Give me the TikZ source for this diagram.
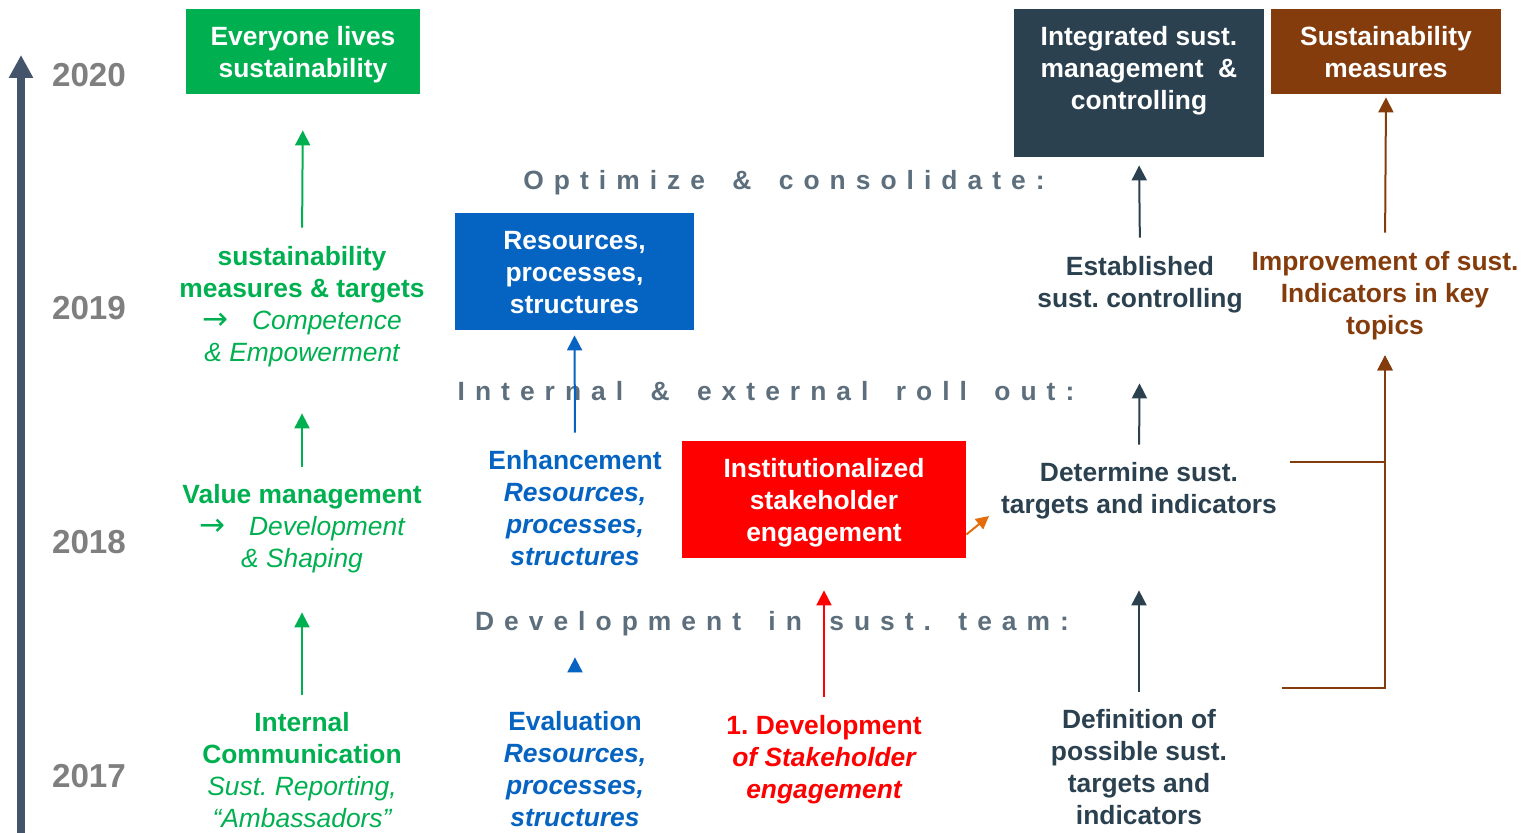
\documentclass[tikz,border=0pt]{standalone}
\usepackage{fontspec}
\setmainfont{Liberation Sans}
\newfontfamily\arrowfont{DejaVu Sans}
\usetikzlibrary{arrows.meta}
\definecolor{greenc}{HTML}{00B050}
\definecolor{bluec}{HTML}{0563C1}
\definecolor{redc}{HTML}{FF0000}
\definecolor{darkc}{HTML}{2B4150}
\definecolor{brownc}{HTML}{843C0C}
\definecolor{orangec}{HTML}{E46C0A}
\definecolor{yearc}{HTML}{7F7F7F}
\definecolor{headc}{HTML}{5D6F7D}
\definecolor{axisc}{HTML}{44546A}
\newcommand\sizedecorate{\fontsize{13.2}{16}\selectfont}
\newcommand\gapdecorate{\ \hspace{5pt}}
\newcommand\arrowdecorate{{\arrowfont\mdseries\upshape\fontsize{15.5}{16}\selectfont →}\hspace{0.9em}}
\frenchspacing
\begin{document}
\begin{tikzpicture}[x=0.5pt,y=-0.5pt,
  boxdecorate/.style={fill=#1,inner sep=0pt},
  boxtext/.style={text=white,inner sep=0pt,align=center,font=\sizedecorate\bfseries},
  textdecorate/.style={text=#1,inner sep=0pt,align=center,font=\sizedecorate\bfseries},
  nlines/.style={minimum height=#1*16pt},
  yeardecorate/.style={text=yearc,inner sep=0pt,font=\fontsize{16.6}{20}\selectfont\bfseries},
  headdecorate/.style={text=headc,inner sep=0pt,font=\sizedecorate\bfseries\addfontfeature{LetterSpace=38}},
  arrowdecorate/.style={-{Triangle[width=7.5pt,length=7.5pt]},line width=1pt,draw=#1}]
\useasboundingbox (0,0) rectangle (1529,833);
%%% time axis
\coordinate (axbot) at (21,833);
\coordinate (axtop) at (21,55);
\draw[-{Triangle[width=11.5pt,length=11.5pt]},line width=4pt,draw=axisc] (axbot) -- (axtop);
\node (y20) at (89,75) [yeardecorate] {2020};
\node (y19) at (89,308) [yeardecorate] {2019};
\node (y18) at (89,542) [yeardecorate] {2018};
\node (y17) at (89,776) [yeardecorate] {2017};
%
%%% phase headings
\node (h19) at (784,183) [headdecorate] {Optimize\gapdecorate\&\gapdecorate consolidate:};
\node (h18) at (766,391) [headdecorate] {Internal\gapdecorate\&\gapdecorate external\gapdecorate roll\gapdecorate out:};
\node (h17) at (772,624) [headdecorate] {Development\gapdecorate in\gapdecorate sust.\gapdecorate team:};
%
%%% green column
% nodes
\node (gbox) at (303,51.5) [boxdecorate=greenc,minimum width=117pt,minimum height=42.5pt] {};
\node (gboxtext) at ([yshift=-1.5pt]gbox.center) [boxtext] {Everyone lives\\ sustainability};
\node (g19) at (302,307) [textdecorate=greenc,nlines=4] {sustainability\\ measures \& targets\\ {\mdseries\itshape \arrowdecorate Competence}\\ {\mdseries\itshape \& Empowerment}};
\node (g18) at (302,529) [textdecorate=greenc,nlines=3] {Value management\\ {\mdseries\itshape \arrowdecorate Development}\\ {\mdseries\itshape \& Shaping}};
\node (g17) at (302,770) [textdecorate=greenc,nlines=4] {Internal\\ Communication\\ {\mdseries\itshape Sust. Reporting,}\\ {\mdseries\itshape “Ambassadors”}};
% edges
\path
(g19.north) edge[arrowdecorate=greenc,shorten <=7.5pt,shorten >=18pt] (gbox.south)
(g18.north) edge[arrowdecorate=greenc,shorten <=7pt,shorten >=21pt] (g19.south)
(g17.north) edge[arrowdecorate=greenc,shorten <=5.5pt,shorten >=17.5pt] (g18.south);
%
%%% blue column
% nodes
\node (bbox) at (574.5,271.5) [boxdecorate=bluec,minimum width=119.5pt,minimum height=58.5pt] {};
\node (bboxtext) at ([yshift=-0.5pt]bbox.center) [boxtext] {Resources,\\ processes,\\ structures};
\node (b18) at (575,508) [textdecorate=bluec,nlines=4] {Enhancement\\ {\itshape Resources,}\\ {\itshape processes,}\\ {\itshape structures}};
\node (b17) at (575,769) [textdecorate=bluec,nlines=4] {Evaluation\\ {\itshape Resources,}\\ {\itshape processes,}\\ {\itshape structures}};
% edges
\path
(b18.north) edge[arrowdecorate=bluec,shorten <=5.5pt,shorten >=2.5pt] (bbox.south)
(b17.north) edge[arrowdecorate=bluec,shorten <=17.5pt,shorten >=42.5pt] (b18.south);
%
%%% red column
% nodes
\node (rbox) at (824,499.5) [boxdecorate=redc,minimum width=142pt,minimum height=58.5pt] {};
\node (rboxtext) at ([yshift=-1.5pt]rbox.center) [boxtext] {Institutionalized\\ stakeholder\\ engagement};
\node (r17) at (824,760) [textdecorate=redc,nlines=3] {1. Development\\ {\itshape of Stakeholder}\\ {\itshape engagement}};
\coordinate (otip) at (989,516);
% edges
\path
(r17.north) edge[arrowdecorate=redc,shorten <=7.5pt,shorten >=16pt] (rbox.south)
([yshift=-17.5pt]rbox.east) edge[arrowdecorate=orangec,-{Triangle[width=6.5pt,length=6.5pt]}] (otip);
%
%%% dark column
% nodes
\node (dbox) at (1139,83) [boxdecorate=darkc,minimum width=125pt,minimum height=74pt] {};
\node (dboxtext) at ([yshift=6pt]dbox.center) [boxtext] {Integrated sust.\\ management \ \&\\ controlling};
\node (d19) at (1140,285) [textdecorate=darkc,nlines=2] {Established\\ sust. controlling};
\node (d18) at (1139,491) [textdecorate=darkc,nlines=2] {Determine sust.\\ targets and indicators};
\node (d17) at (1139,767) [textdecorate=darkc,nlines=4] {Definition of\\ possible sust.\\ targets and\\ indicators};
% edges
\path
(d19.north) edge[arrowdecorate=darkc,shorten <=7.5pt,shorten >=4pt] (dbox.south)
(d18.north) edge[arrowdecorate=darkc,shorten <=7pt,shorten >=33pt] (d19.south)
(d17.north) edge[arrowdecorate=darkc,shorten <=5.5pt,shorten >=33.5pt] (d18.south);
%
%%% brown column
% nodes
\node (nbox) at (1386,51.5) [boxdecorate=brownc,minimum width=115pt,minimum height=42.5pt] {};
\node (nboxtext) at ([yshift=-0.5pt]nbox.center) [boxtext] {Sustainability\\ measures};
\node (n19) at (1385,296) [textdecorate=brownc,nlines=3] {Improvement of sust.\\ Indicators in key\\ topics};
\coordinate (n18) at (1290,462);
\coordinate (n17) at (1282,688);
% edges
\path
(n19.north) edge[arrowdecorate=brownc,shorten <=7.5pt,shorten >=1.5pt] (nbox.south);
\draw[arrowdecorate=brownc,shorten >=5.5pt] (n18) -| (n19.south);
\draw[arrowdecorate=brownc,shorten >=5.5pt] (n17) -| (n19.south);
\end{tikzpicture}
\end{document}
